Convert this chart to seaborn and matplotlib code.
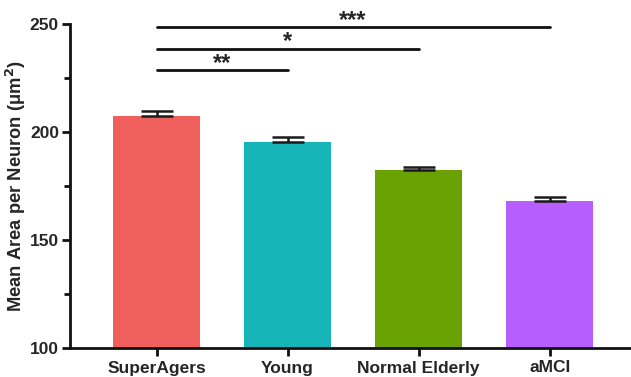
import numpy as np
import pandas as pd
import matplotlib
matplotlib.use("Agg")
import matplotlib.pyplot as plt
from matplotlib.ticker import MultipleLocator
import seaborn as sns

# Daten
groups = ["SuperAgers", "Young", "Normal Elderly", "aMCI"]
means = [207.6, 195.6, 182.2, 168.0]
sems = [2.3, 2.1, 1.8, 1.7]
colors = ["#EF5F5B", "#17B5B8", "#6AA204", "#B75EFE"]

# Signifikanz: (von, bis, Höhe, Sterne)
sig_from = [0, 0, 0]
sig_to = [1, 2, 3]
sig_y = [228.7, 238.6, 248.5]
sig_text = ["**", "*", "***"]

sns.set_style("ticks")
plt.rcParams["font.family"] = ["Liberation Sans", "DejaVu Sans"]
plt.rcParams["font.weight"] = "bold"

df = pd.DataFrame({"group": groups, "mean": means})

fig = plt.figure(figsize=(6.31, 3.77), dpi=100)
ax = fig.add_axes([70 / 631, 1 - 348 / 377, 1 - 70 / 631, (348 - 24) / 377])

sns.barplot(data=df, x="group", y="mean", hue="group", palette=colors,
            legend=False, errorbar=None, width=0.66, ax=ax, saturation=1,
            edgecolor="none")

x = np.arange(len(groups))
ax.errorbar(x, means, yerr=[np.zeros(len(sems)), sems], fmt="none",
            ecolor="#1a1a1a", elinewidth=1.8, capsize=11.5, capthick=1.8)

for a, b, y, t in zip(sig_from, sig_to, sig_y, sig_text):
    ax.plot([a, b], [y, y], color="#111111", lw=2, clip_on=False)
    ax.text((a + b) / 2, y - 2.2, t, ha="center", va="bottom",
            fontsize=17, fontweight="bold", clip_on=False)

ax.set_ylim(100, 250)
ax.set_xlim(-0.66, 3.62)
ax.yaxis.set_major_locator(MultipleLocator(50))
ax.yaxis.set_minor_locator(MultipleLocator(25))
ax.set_ylabel("Mean Area per Neuron (μm$^\\mathbf{2}$)", fontsize=13.2,
              fontweight="bold", labelpad=1)
ax.set_xlabel("")

sns.despine(ax=ax)
for s in ["left", "bottom"]:
    ax.spines[s].set_linewidth(2)
    ax.spines[s].set_color("#111111")
ax.tick_params(axis="both", which="major", width=2, length=6, labelsize=12.5,
               color="#111111")
ax.tick_params(axis="y", which="minor", width=2, length=4, color="#111111")
ax.tick_params(axis="x", pad=3)
ax.tick_params(axis="y", pad=2)
for lbl in ax.get_xticklabels() + ax.get_yticklabels():
    lbl.set_fontweight("bold")

fig.savefig("out.png", dpi=100)
